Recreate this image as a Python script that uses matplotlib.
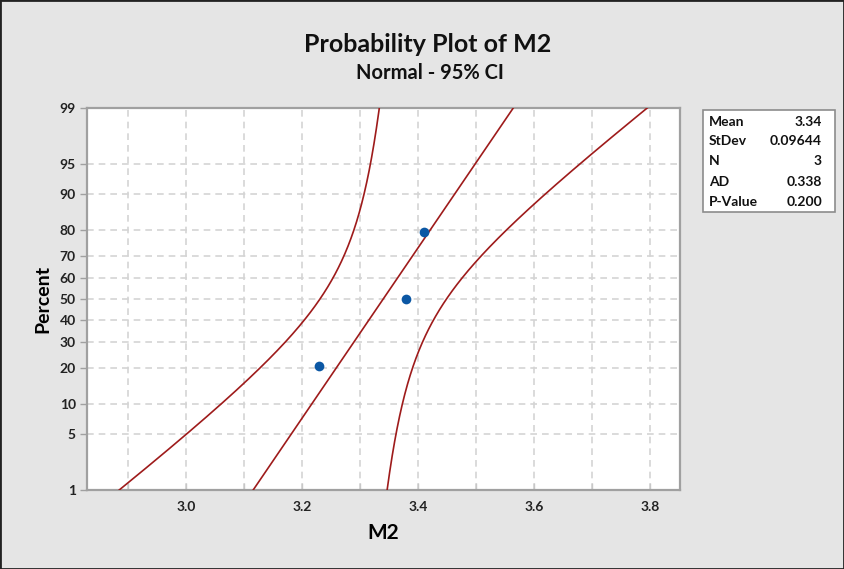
import math
from statistics import NormalDist
import numpy as np
import matplotlib
matplotlib.use("Agg")
import matplotlib.pyplot as plt
from matplotlib.patches import Rectangle

# Observations of M2
m2 = [3.23, 3.38, 3.41]

# Goodness-of-fit figures reported in the summary box
ad_stat = 0.338
p_value = 0.200

# Axis labelling
x_ticks = [3.0, 3.2, 3.4, 3.6, 3.8]
x_minor = [2.9, 3.1, 3.3, 3.5, 3.7]
pct_ticks = [1, 5, 10, 20, 30, 40, 50, 60, 70, 80, 90, 95, 99]

FONT = ["Lato", "DejaVu Sans"]
plt.rcParams["font.family"] = FONT
WT = "bold"

nd = NormalDist()
data = np.sort(np.asarray(m2, dtype=float))
n = len(data)
mean = data.mean()
sd = data.std(ddof=1)

# Median-rank plotting positions (Benard)
ranks = np.arange(1, n + 1)
pp = (ranks - 0.3) / (n + 0.4)
z_pts = np.array([nd.inv_cdf(p) for p in pp])

# Fitted line and 95% confidence band for the percentiles
c4 = math.sqrt(2.0 / (n - 1)) * math.gamma(n / 2) / math.gamma((n - 1) / 2)
z_lo, z_hi = nd.inv_cdf(0.01), nd.inv_cdf(0.99)
zz = np.linspace(z_lo, z_hi, 300)
xp = mean + zz * sd
hw = nd.inv_cdf(0.975) * sd * np.sqrt(1.0 / n + zz ** 2 * (1 - c4 ** 2))

W, H = 844, 569
fig = plt.figure(figsize=(W / 100, H / 100), dpi=100)
fig.patch.set_facecolor("#e5e5e5")
fig.add_artist(Rectangle((0, 0), 1, 1, transform=fig.transFigure, fill=False,
                         edgecolor="#222222", linewidth=2.0))

ax = fig.add_axes([87 / W, 1 - 490 / H, (680 - 87) / W, (490 - 108) / H])
ax.set_facecolor("white")

line_c = "#9e1b1b"
ax.plot(xp, zz, color=line_c, lw=1.2, zorder=3)
ax.plot(xp - hw, zz, color=line_c, lw=1.2, zorder=3)
ax.plot(xp + hw, zz, color=line_c, lw=1.2, zorder=3)
ax.plot(data, z_pts, "o", color="#0b57a4", markersize=7, zorder=4,
        markeredgewidth=0)

ax.set_xlim(2.829, 3.852)
ax.set_ylim(z_lo, z_hi)

ax.set_xticks(x_ticks)
ax.set_xticklabels([f"{v:.1f}" for v in x_ticks])
ax.set_xticks(x_minor, minor=True)
z_ticks = [nd.inv_cdf(p / 100) for p in pct_ticks]
ax.set_yticks(z_ticks)
ax.set_yticklabels([str(p) for p in pct_ticks])

grid_kw = dict(color="#d4d4d4", lw=1.2, linestyle=(0, (4, 3)), zorder=1)
for v in x_ticks + x_minor:
    ax.axvline(v, **grid_kw)
for z in z_ticks:
    ax.axhline(z, **grid_kw)

for s in ax.spines.values():
    s.set_color("#a0a0a0")
    s.set_linewidth(1.6)

ax.tick_params(axis="x", which="both", direction="in", length=5, width=1,
               color="#c8c8c8", pad=8, labelsize=10, labelcolor="#222222")
ax.tick_params(axis="y", direction="out", length=5, width=1, color="#a0a0a0",
               pad=3, labelsize=10, labelcolor="#222222")
for lab in ax.get_xticklabels() + ax.get_yticklabels():
    lab.set_fontweight(WT)

ax.set_xlabel("M2", fontsize=15, fontweight=WT, labelpad=7)
ax.set_ylabel("Percent", fontsize=14, fontweight=WT, labelpad=6)

fig.text(428 / W, 1 - 44 / H, "Probability Plot of M2", ha="center",
         va="center", fontsize=18, fontweight=WT, color="#111111")
fig.text(430 / W, 1 - 73 / H, "Normal - 95% CI", ha="center", va="center",
         fontsize=14.5, fontweight=WT, color="#111111")

# Summary box
bx0, by0, bx1, by1 = 703, 110, 835, 212
fig.add_artist(Rectangle((bx0 / W, 1 - by1 / H), (bx1 - bx0) / W,
                         (by1 - by0) / H, transform=fig.transFigure,
                         facecolor="white", edgecolor="#8c8c8c", lw=1.2))
rows = [("Mean", f"{mean:.2f}"), ("StDev", f"{sd:.5f}"), ("N", f"{n}"),
        ("AD", f"{ad_stat:.3f}"), ("P-Value", f"{p_value:.3f}")]
row_y = [122, 141, 161, 182, 202]
for (k, v), yy in zip(rows, row_y):
    fig.text(709 / W, 1 - yy / H, k, ha="left", va="center", fontsize=10,
             fontweight=WT, color="#111111")
    fig.text(822 / W, 1 - yy / H, v, ha="right", va="center", fontsize=10,
             fontweight=WT, color="#111111")

fig.savefig("out.png", dpi=100, facecolor=fig.get_facecolor())
